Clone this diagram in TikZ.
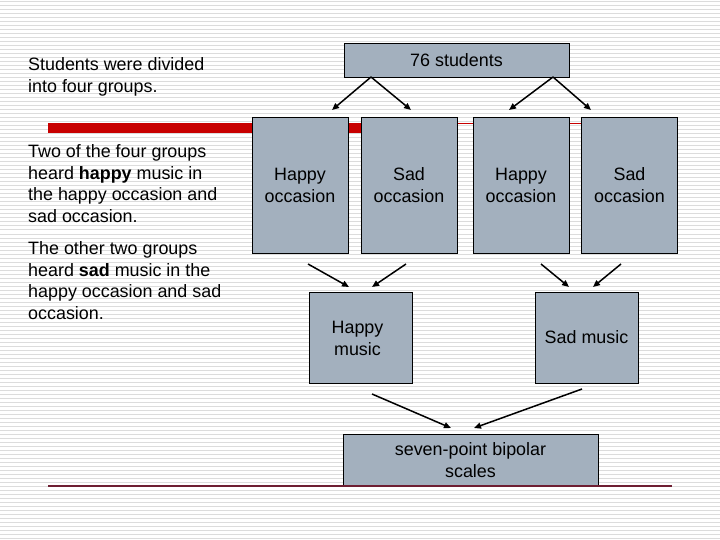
\documentclass[tikz,border=0pt]{standalone}
\usepackage{fontspec}
\setmainfont{Liberation Sans}
\usetikzlibrary{arrows.meta}
\usepackage{xcolor}

\definecolor{boxgray}{RGB}{163,176,190}
\definecolor{barred}{RGB}{200,0,0}
\definecolor{rulered}{RGB}{110,30,50}
\definecolor{stripe}{RGB}{220,220,220}

\newcommand\boxstrut{\rule[-4pt]{0pt}{21.5pt}}

\tikzset{
  box/.style={draw=black, line width=0.9pt, fill=boxgray, align=center, inner sep=0pt,
    font=\fontsize{17.9}{21.5}\selectfont},
  note/.style={anchor=north west, align=left, inner sep=0pt,
    font=\fontsize{17.9}{21.5}\selectfont},
  arr/.style={line width=1.5pt, -{Triangle[length=7pt,width=6pt]}},
}

\begin{document}
\begin{tikzpicture}[x=1pt,y=-1pt]
\useasboundingbox (0,0) rectangle (720,540);

\foreach \y in {2,6,...,538}
  \draw[stripe, line width=1pt] (0,\y) -- (720,\y);

\draw[barred, line width=10pt] (48,128) -- (361,128);
\draw[barred, line width=1pt] (361,123.5) -- (676,123.5);

\node[note] (txt1) at (28,57.5) {Students were divided\\into four groups.};
\node[note] (txt2) at (28,144.5) {Two of the four groups\\heard \textbf{happy} music in\\the happy occasion and\\sad occasion.};
\node[note] (txt3) at (28,241.5) {The other two groups\\heard \textbf{sad} music in the\\happy occasion and sad\\occasion.};

\node[box, minimum width=225pt, minimum height=34pt] (students) at (456.5,60) {76 students};

\node[box, minimum width=96pt, minimum height=136pt] (hocc1) at (300,185) {\boxstrut Happy\\\boxstrut occasion};
\node[box, minimum width=96pt, minimum height=136pt] (socc1) at (409,185) {\boxstrut Sad\\\boxstrut occasion};
\node[box, minimum width=96pt, minimum height=136pt] (hocc2) at (521,185) {\boxstrut Happy\\\boxstrut occasion};
\node[box, minimum width=96pt, minimum height=136pt] (socc2) at (629.5,185) {\boxstrut Sad\\\boxstrut occasion};

\node[box, minimum width=103pt, minimum height=91pt] (hmusic) at (360.5,337.5) {\boxstrut Happy\hspace*{6pt}\\\boxstrut music\hspace*{6pt}};
\node[box, minimum width=103pt, minimum height=91pt] (smusic) at (586.5,337.5) {Sad music};

\node[box, minimum width=255pt, minimum height=51pt] (scales) at (470.5,459.5) {\boxstrut seven-point bipolar\\\boxstrut scales};

\draw[rulered, line width=1.5pt] (48,486) -- (672,486);

\coordinate (sl) at (371,77);
\coordinate (sr) at (553,77);
\coordinate (e1) at (332,110);
\coordinate (e2) at (411,110);
\coordinate (e3) at (509,110);
\coordinate (e4) at (591,110);

\coordinate (h1) at (308,264);
\coordinate (h2) at (406,264);
\coordinate (h1e) at (349,287);
\coordinate (h2e) at (372,287);
\coordinate (s1) at (541,264);
\coordinate (s2) at (621,264);
\coordinate (s1e) at (569,287);
\coordinate (s2e) at (593,287);

\coordinate (m1) at (372,394);
\coordinate (m2) at (582,389);
\coordinate (m1e) at (451,428);
\coordinate (m2e) at (474,428);

\draw[arr] (sl) -- (e1);
\draw[arr] (sl) -- (e2);
\draw[arr] (sr) -- (e3);
\draw[arr] (sr) -- (e4);

\draw[arr] (h1) -- (h1e);
\draw[arr] (h2) -- (h2e);
\draw[arr] (s1) -- (s1e);
\draw[arr] (s2) -- (s2e);

\draw[arr] (m1) -- (m1e);
\draw[arr] (m2) -- (m2e);

\end{tikzpicture}
\end{document}
